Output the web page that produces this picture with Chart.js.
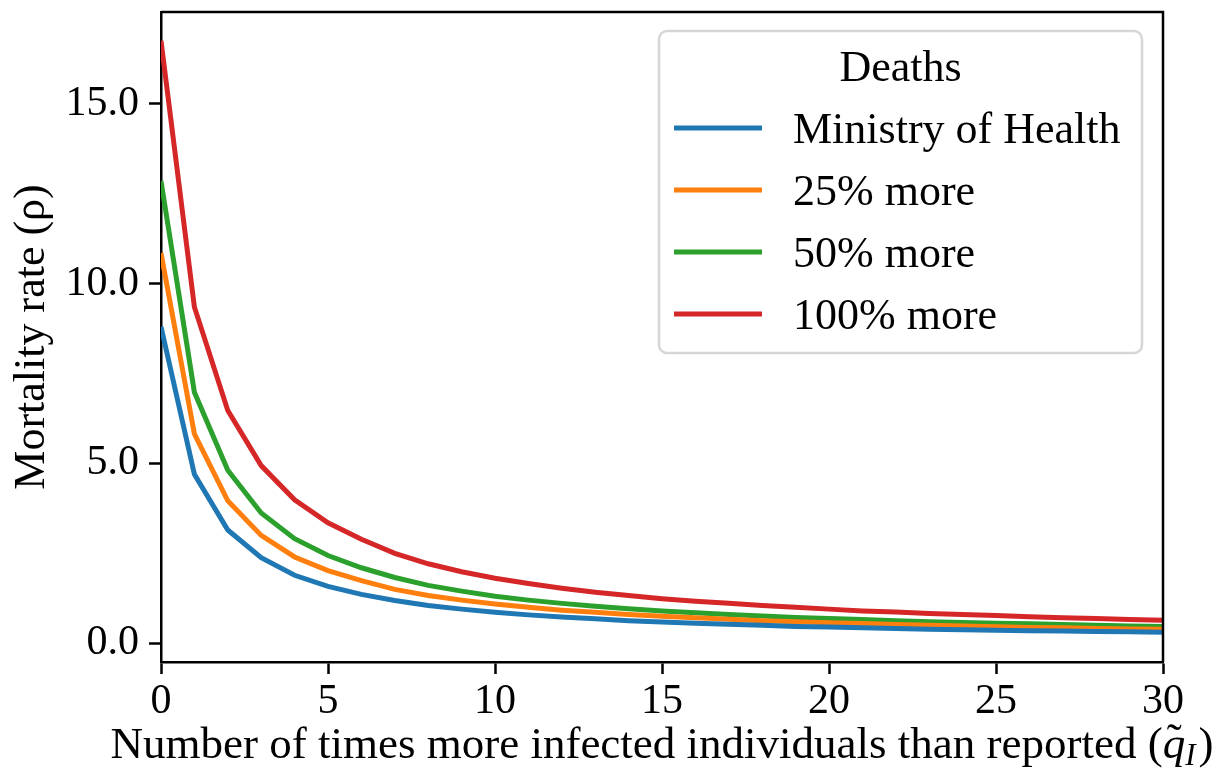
<!DOCTYPE html>
<html>
<head>
<meta charset="utf-8">
<script src="https://cdn.jsdelivr.net/npm/chart.js@4.4.1/dist/chart.umd.min.js"></script>
<style>
    html, body { margin: 0; padding: 0; background: #fff; }
    #wrap { width: 1222px; height: 775px; }
</style>
</head>
<body>
<div id="wrap"><canvas id="chart" width="1222" height="775"></canvas></div>
<script>
// ----------------------------------------------
// DATA
// ----------------------------------------------
const qValues = [0, 1, 2, 3, 4, 5, 6, 7, 8, 9, 10, 11, 12, 13, 14, 15,
    16, 17, 18, 19, 20, 21, 22, 23, 24, 25, 26, 27, 28, 29, 30];
const ministry = [8.8, 4.7, 3.15, 2.38, 1.89, 1.58, 1.36, 1.19, 1.05, 0.95, 0.86, 0.79, 0.73, 0.68, 0.63, 0.59,
    0.56, 0.53, 0.50, 0.47, 0.45, 0.43, 0.41, 0.39, 0.38, 0.36, 0.35, 0.34, 0.33, 0.32, 0.31];
const more25 = [10.85, 5.82, 3.96, 3.0, 2.4, 2.02, 1.74, 1.5, 1.33, 1.2, 1.09, 1.0, 0.92, 0.86, 0.8, 0.75,
    0.71, 0.67, 0.63, 0.6, 0.57, 0.55, 0.52, 0.5, 0.48, 0.46, 0.44, 0.43, 0.41, 0.4, 0.39];
const more50 = [12.85, 6.98, 4.81, 3.62, 2.91, 2.44, 2.1, 1.83, 1.61, 1.45, 1.31, 1.2, 1.11, 1.03, 0.96, 0.9,
    0.85, 0.8, 0.76, 0.72, 0.69, 0.66, 0.63, 0.6, 0.58, 0.56, 0.54, 0.52, 0.5, 0.48, 0.47];
const more100 = [16.75, 9.35, 6.47, 4.94, 3.99, 3.35, 2.89, 2.5, 2.21, 1.99, 1.81, 1.66, 1.53, 1.42, 1.33, 1.24,
    1.17, 1.11, 1.05, 1.0, 0.95, 0.9, 0.87, 0.83, 0.8, 0.77, 0.74, 0.71, 0.69, 0.66, 0.64];

const seriesNames = ['Ministry of Health', '25% more', '50% more', '100% more'];
const seriesColors = ['#1f77b4', '#ff7f0e', '#2ca02c', '#d62728'];
const yTicks = [0, 5, 10, 15];
const xTicks = [0, 5, 10, 15, 20, 25, 30];
const legendTitle = 'Deaths';
const yTitle = 'Mortality rate (\u03C1)';
const xTitle = 'Number of times more infected individuals than reported (';

const FONT = "'Liberation Serif', 'DejaVu Serif', serif";

//---------------------------------------------------------------
// PLUGIN : top/right spines, legend box, x axis title
//---------------------------------------------------------------
const decorPlugin = {
    id: 'decor',
    afterDraw(chart) {
        const ctx = chart.ctx;
        const area = chart.chartArea;
        ctx.save();

        // top and right spines
        ctx.strokeStyle = '#000';
        ctx.lineWidth = 2.5;
        ctx.beginPath();
        ctx.moveTo(area.left, area.top);
        ctx.lineTo(area.right, area.top);
        ctx.lineTo(area.right, area.bottom);
        ctx.stroke();

        // legend box
        const bx = area.right - 504, by = area.top + 19, bw = 483, bh = 322, r = 8;
        ctx.beginPath();
        ctx.roundRect(bx, by, bw, bh, r);
        ctx.fillStyle = 'rgba(255,255,255,0.8)';
        ctx.fill();
        ctx.strokeStyle = '#d6d6d6';
        ctx.lineWidth = 2.5;
        ctx.stroke();

        ctx.fillStyle = '#000';
        ctx.textBaseline = 'alphabetic';
        ctx.textAlign = 'center';
        ctx.font = '44px ' + FONT;
        ctx.fillText(legendTitle, bx + bw / 2, by + 50);

        ctx.textAlign = 'left';
        chart.data.datasets.forEach((ds, i) => {
            const ly = by + 97 + i * 62;
            ctx.strokeStyle = ds.borderColor;
            ctx.lineWidth = 5;
            ctx.beginPath();
            ctx.moveTo(bx + 15, ly);
            ctx.lineTo(bx + 103, ly);
            ctx.stroke();
            ctx.fillText(ds.label, bx + 134, ly + 15);
        });

        // x axis title with q tilde sub I
        const fs = 45;
        ctx.font = fs + 'px ' + FONT;
        const w1 = ctx.measureText(xTitle).width;
        ctx.font = 'italic ' + fs + 'px ' + FONT;
        const wq = ctx.measureText('q').width;
        ctx.font = 'italic 31px ' + FONT;
        const wi = ctx.measureText('I').width;
        ctx.font = fs + 'px ' + FONT;
        const wp = ctx.measureText(')').width;
        const total = w1 + wq + wi + wp + 3;
        let x = (area.left + area.right) / 2 - total / 2;
        const base = 758;
        ctx.fillText(xTitle, x, base);
        x += w1;
        ctx.font = 'italic ' + fs + 'px ' + FONT;
        ctx.fillText('q', x, base);
        ctx.font = fs + 'px ' + FONT;
        ctx.fillText('\u02DC', x + 4, base - 4);
        x += wq;
        ctx.font = 'italic 31px ' + FONT;
        ctx.fillText('I', x, base + 7);
        x += wi + 3;
        ctx.font = fs + 'px ' + FONT;
        ctx.fillText(')', x, base);

        ctx.restore();
    }
};

const datasets = [ministry, more25, more50, more100].map((vals, i) => ({
    label: seriesNames[i],
    data: qValues.map((q, k) => ({ x: q, y: vals[k] })),
    borderColor: seriesColors[i],
    backgroundColor: seriesColors[i],
    borderWidth: 5,
    pointRadius: 0,
    tension: 0,
    fill: false
}));

const ctx = document.getElementById('chart').getContext('2d');
const chart = new Chart(ctx, {
    type: 'line',
    data: { datasets: datasets },
    options: {
        responsive: false,
        animation: false,
        layout: { padding: { top: 12, right: 59, left: 0, bottom: 0 } },
        plugins: {
            legend: { display: false },
            tooltip: { enabled: false }
        },
        scales: {
            x: {
                type: 'linear',
                min: 0,
                max: 30,
                afterBuildTicks: s => { s.ticks = xTicks.map(v => ({ value: v })); },
                afterFit: s => { s.height = 113; s.paddingLeft = 0; s.paddingRight = 0; },
                ticks: {
                    color: '#000',
                    font: { family: FONT, size: 42 },
                    padding: 3,
                    maxRotation: 0,
                    callback: v => String(v)
                },
                grid: { drawOnChartArea: false, tickLength: 12, tickColor: '#000', tickWidth: 2.5 },
                border: { color: '#000', width: 2.5 }
            },
            y: {
                type: 'linear',
                min: -0.52,
                max: 17.55,
                afterBuildTicks: s => { s.ticks = yTicks.map(v => ({ value: v })); },
                afterFit: s => { s.width = 161; s.paddingTop = 0; s.paddingBottom = 0; },
                ticks: {
                    color: '#000',
                    font: { family: FONT, size: 42 },
                    padding: 10,
                    callback: v => v.toFixed(1)
                },
                grid: { drawOnChartArea: false, tickLength: 12, tickColor: '#000', tickWidth: 2.5 },
                border: { color: '#000', width: 2.5 },
                title: {
                    display: true,
                    text: yTitle,
                    color: '#000',
                    font: { family: FONT, size: 44 },
                    padding: { top: 6, bottom: 0 }
                }
            }
        }
    },
    plugins: [decorPlugin]
});
</script>
</body>
</html>
